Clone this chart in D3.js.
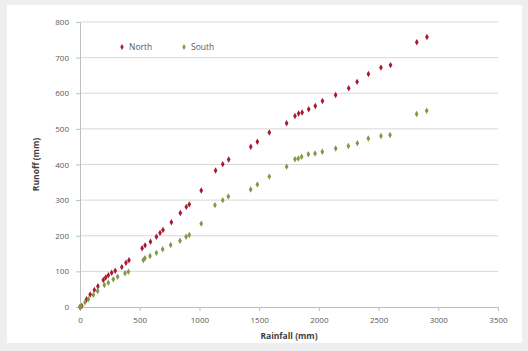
<!DOCTYPE html>
<meta charset="utf-8">
<script src="https://cdn.jsdelivr.net/npm/d3@7"></script>
<style>
body { margin: 0; background: #eceef0; }
text { font-family: "Open Sans", "Liberation Sans", sans-serif; }
.tick text { fill: #595959; font-size: 8px; }
</style>
<body>
<script>

// rainfall (mm) vs runoff (mm)
var northRain = [0, 15, 55, 85, 120, 150, 195, 215, 237, 265, 295, 350, 385, 410, 520, 545, 590, 640, 670, 695, 765, 840, 890, 915, 1015, 1135, 1195, 1245, 1430, 1485, 1585, 1730, 1800, 1830, 1860, 1915, 1970, 2030, 2140, 2250, 2320, 2415, 2520, 2600, 2820, 2905];
var northRunoff = [0, 3, 22, 35, 48, 58, 76, 83, 89, 96, 102, 112, 124, 131, 165, 173, 183, 197, 208, 216, 238, 264, 281, 288, 327, 383, 401, 414, 450, 464, 490, 516, 536, 543, 546, 555, 564, 578, 595, 614, 632, 654, 672, 679, 743, 758];

var southRain = [0, 10, 42, 70, 112, 148, 204, 237, 279, 315, 377, 405, 530, 544, 586, 640, 692, 759, 837, 888, 915, 1015, 1130, 1195, 1242, 1429, 1485, 1585, 1730, 1800, 1828, 1856, 1912, 1968, 2029, 2141, 2247, 2322, 2414, 2520, 2596, 2819, 2903];
var southRunoff = [0, 1, 13, 22, 34, 45, 62, 68, 78, 85, 95, 99, 132, 137, 143, 152, 162, 174, 186, 197, 202, 234, 286, 300, 310, 330, 344, 366, 394, 415, 417, 422, 429, 431, 436, 445, 452, 460, 473, 480, 483, 542, 551];

var seriesNames = ["North", "South"];
var seriesColors = ["#a81a32", "#7e9a45"];

var xTicks = [0, 500, 1000, 1500, 2000, 2500, 3000, 3500];
var yTicks = [0, 100, 200, 300, 400, 500, 600, 700, 800];

var width = 528, height = 351;

var svg = d3.select("body").append("svg")
    .attr("width", width)
    .attr("height", height);

// white chart area
svg.append("rect")
    .attr("x", 7).attr("y", 5)
    .attr("width", 515).attr("height", 338)
    .attr("fill", "#fff");

var x = d3.scaleLinear().domain([0, 3500]).range([80, 498]);
var y = d3.scaleLinear().domain([0, 800]).range([307, 22]);

// gridlines
svg.append("g")
    .selectAll("line")
    .data(yTicks.slice(1))
    .enter().append("line")
    .attr("x1", x(0)).attr("x2", x(3500))
    .attr("y1", d => y(d)).attr("y2", d => y(d))
    .attr("stroke", "#d9d9d9")
    .attr("stroke-width", 1);

var xAxis = svg.append("g")
    .attr("transform", "translate(0," + y(0) + ")")
    .call(d3.axisBottom(x).tickValues(xTicks).tickSize(4).tickPadding(6).tickFormat(d3.format("d")));
var yAxis = svg.append("g")
    .attr("transform", "translate(" + x(0) + ",0)")
    .call(d3.axisLeft(y).tickValues(yTicks).tickSize(4).tickPadding(7).tickFormat(d3.format("d")));

[xAxis, yAxis].forEach(function(a) {
  a.select(".domain").attr("stroke", "#bfbfbf");
  a.selectAll(".tick line").attr("stroke", "#bfbfbf");
});

// axis titles
svg.append("text")
    .attr("x", (x(0) + x(3500)) / 2)
    .attr("y", 339)
    .attr("text-anchor", "middle")
    .style("font-size", "8.5px")
    .style("font-weight", "bold")
    .attr("fill", "#404040")
    .text("Rainfall (mm)");

svg.append("text")
    .attr("transform", "translate(39," + (y(400)) + ") rotate(-90)")
    .attr("text-anchor", "middle")
    .style("font-size", "8.5px")
    .style("font-weight", "bold")
    .attr("fill", "#404040")
    .text("Runoff (mm)");

var sym = d3.symbol().type(d3.symbolDiamond).size(12);

var series = [
  northRain.map((r, i) => [r, northRunoff[i]]),
  southRain.map((r, i) => [r, southRunoff[i]])
];

series.forEach(function(pts, k) {
  svg.append("g")
    .selectAll("path")
    .data(pts)
    .enter().append("path")
    .attr("d", sym)
    .attr("transform", d => "translate(" + x(d[0]) + "," + y(d[1]) + ")")
    .attr("fill", seriesColors[k]);
});

// legend
var legendX = [122, 184];
seriesNames.forEach(function(name, k) {
  svg.append("path")
    .attr("d", d3.symbol().type(d3.symbolDiamond).size(10))
    .attr("transform", "translate(" + legendX[k] + ",47)")
    .attr("fill", seriesColors[k]);
  svg.append("text")
    .attr("x", legendX[k] + 7)
    .attr("y", 50)
    .style("font-size", "8.5px")
    .attr("fill", "#595959")
    .text(name);
});

</script>
</body>
